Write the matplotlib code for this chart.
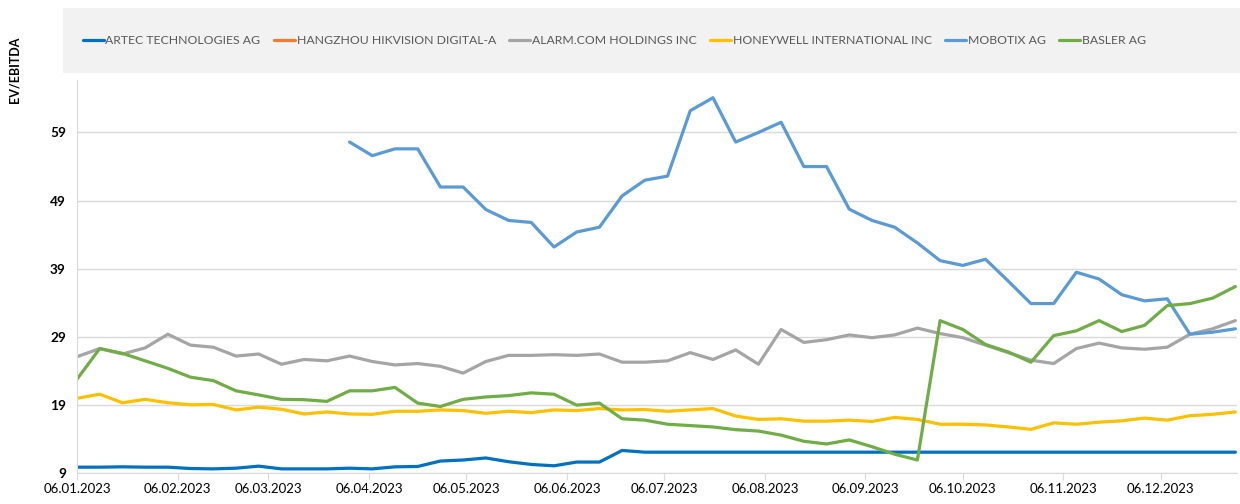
import numpy as np
import pandas as pd
import matplotlib
matplotlib.use("Agg")
import matplotlib.pyplot as plt
import matplotlib.dates as mdates
from matplotlib.patches import Rectangle

plt.rcParams['font.family'] = ['Lato', 'DejaVu Sans']

# weekly EV/EBITDA readings (Fridays, 06.01.2023 .. 29.12.2023)
dates = pd.date_range('2023-01-06', periods=52, freq='7D')

artec = [9.9, 9.9, 9.95, 9.9, 9.9, 9.7, 9.65, 9.75, 10.05, 9.65,
         9.65, 9.65, 9.75, 9.65, 9.95, 10.0, 10.8, 10.95, 11.25, 10.7,
         10.3, 10.1, 10.65, 10.65, 12.35, 12.1, 12.1, 12.1, 12.1, 12.1,
         12.1, 12.1, 12.1, 12.1, 12.1, 12.1, 12.1, 12.1, 12.1, 12.1,
         12.1, 12.1, 12.1, 12.1, 12.1, 12.1, 12.1, 12.1, 12.1, 12.1,
         12.1, 12.1]
hikvision = [np.nan] * len(dates)   # no values shown in the chart
alarm = [26.1, 27.3, 26.5, 27.4, 29.4, 27.8, 27.5, 26.2, 26.5, 25.0,
         25.7, 25.5, 26.2, 25.4, 24.9, 25.1, 24.7, 23.7, 25.4, 26.3,
         26.3, 26.4, 26.3, 26.5, 25.3, 25.3, 25.5, 26.7, 25.7, 27.1,
         25.0, 30.1, 28.2, 28.6, 29.3, 28.9, 29.3, 30.3, 29.5, 28.9,
         27.8, 26.7, 25.6, 25.1, 27.3, 28.1, 27.4, 27.2, 27.5, 29.4,
         30.2, 31.4]
honeywell = [20.0, 20.6, 19.35, 19.85, 19.35, 19.05, 19.1, 18.3, 18.7, 18.4,
             17.7, 18.0, 17.7, 17.65, 18.1, 18.1, 18.3, 18.2, 17.8, 18.1,
             17.9, 18.3, 18.2, 18.5, 18.3, 18.35, 18.1, 18.3, 18.5, 17.4,
             16.9, 17.0, 16.65, 16.65, 16.8, 16.6, 17.2, 16.9, 16.2, 16.2,
             16.1, 15.8, 15.45, 16.4, 16.2, 16.5, 16.7, 17.1, 16.8, 17.45,
             17.65, 18.0]
mobotix = [np.nan, np.nan, np.nan, np.nan, np.nan, np.nan, np.nan, np.nan,
           np.nan, np.nan, np.nan, np.nan,
           57.6, 55.6, 56.6, 56.6, 51.0, 51.0, 47.7, 46.1, 45.8,
           42.2, 44.4, 45.1, 49.7, 52.0, 52.6, 62.2, 64.1, 57.6, 59.0,
           60.5, 54.0, 54.0, 47.75, 46.1, 45.1, 42.8, 40.2, 39.5, 40.4,
           37.2, 33.9, 33.9, 38.5, 37.5, 35.2, 34.3, 34.6, 29.4, 29.7,
           30.2]
basler = [22.8, 27.3, 26.6, 25.5, 24.4, 23.1, 22.6, 21.1, 20.5, 19.85,
          19.8, 19.55, 21.1, 21.1, 21.6, 19.3, 18.8, 19.85, 20.2, 20.4,
          20.8, 20.6, 19.0, 19.3, 17.0, 16.8, 16.2, 16.0, 15.8, 15.4,
          15.2, 14.6, 13.7, 13.3, 13.9, 12.9, 11.8, 10.95, 31.4, 30.1,
          27.9, 26.8, 25.3, 29.2, 29.9, 31.4, 29.8, 30.7, 33.6, 33.9,
          34.7, 36.4]

series = [
    ('ARTEC TECHNOLOGIES AG', artec, '#0070C0'),
    ('HANGZHOU HIKVISION DIGITAL-A', hikvision, '#ED7D31'),
    ('ALARM.COM HOLDINGS INC', alarm, '#A5A5A5'),
    ('HONEYWELL INTERNATIONAL INC', honeywell, '#FFC000'),
    ('MOBOTIX AG', mobotix, '#5B9BD5'),
    ('BASLER AG', basler, '#70AD47'),
]
yticks = [9, 19, 29, 39, 49, 59]

W, H = 1240, 504
fig = plt.figure(figsize=(W / 100, H / 100), dpi=100)
ax = fig.add_axes([77 / W, 1 - 473.3 / H, (1237 - 77) / W, (473.3 - 80) / H])

# grey legend band
fig.add_artist(Rectangle((63 / W, 1 - 73 / H), (W - 63) / W, 65 / H,
                         transform=fig.transFigure, facecolor='#F2F2F2',
                         edgecolor='none', zorder=0))

handles = []
for name, vals, col in series:
    ln, = ax.plot(dates, vals, color=col, lw=2.3, label=name,
                  solid_joinstyle='round', solid_capstyle='round')
    handles.append(ln)

ax.set_ylim(9, 66.7)
ax.set_xlim(dates[0], dates[-1] + pd.Timedelta(days=0.5))
ax.set_yticks(yticks)
ax.set_yticklabels([str(v) for v in yticks], fontweight='bold', fontsize=9.8)
ax.yaxis.grid(True, color='#D9D9D9', lw=1)
ax.set_axisbelow(True)

ax.xaxis.set_major_locator(mdates.MonthLocator(bymonthday=6))
ax.xaxis.set_major_formatter(mdates.DateFormatter('%d.%m.%Y'))
ax.tick_params(axis='x', length=5, color='#D9D9D9', labelsize=9.5, pad=2)
ax.tick_params(axis='y', length=0, pad=8)

for s in ['top', 'right']:
    ax.spines[s].set_visible(False)
for s in ['left', 'bottom']:
    ax.spines[s].set_color('#D9D9D9')

fig.text(15 / W, 1 - 70 / H, 'EV/EBITDA', rotation=90, ha='center', va='center',
         fontsize=9, fontweight='bold')

fig.legend(handles=handles, loc='center left', bbox_to_anchor=(78 / W, 1 - 41 / H),
           ncol=6, frameon=False, fontsize=8.8, handlelength=1.7,
           handletextpad=0.15, columnspacing=1.1, labelcolor='#595959',
           borderaxespad=0)

fig.savefig('out.png', dpi=100)
